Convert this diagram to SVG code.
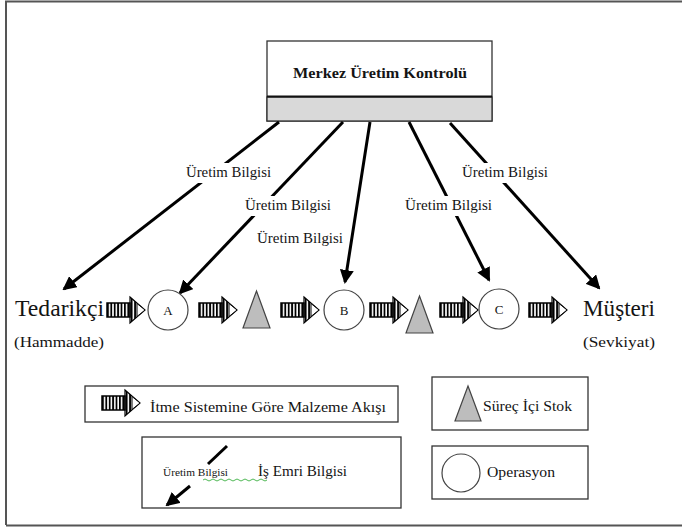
<svg xmlns="http://www.w3.org/2000/svg" width="682" height="528" viewBox="0 0 682 528">
<style>
  text{font-family:"Liberation Serif","Times New Roman",serif;fill:#141414}
  .box{fill:#fff;stroke:#333;stroke-width:1.3}
  .lbl{font-size:14px}
  .lblbg{fill:#fff}
  .conn{stroke:#000;stroke-width:3;fill:none}
  .op{fill:#fff;stroke:#444;stroke-width:1.2}
  .stock{fill:#bdbdbd;stroke:#444;stroke-width:1.2}
  .frame{stroke:#555;stroke-width:2;fill:none}
  .letter{font-size:13px;text-anchor:middle}
</style>
<defs>
  <pattern id="stripes" patternUnits="userSpaceOnUse" width="3.4" height="10">
    <rect width="1.8" height="10" fill="#000"/>
  </pattern>
  <marker id="ah" markerUnits="userSpaceOnUse" markerWidth="14" markerHeight="14" viewBox="0 0 14 14" refX="12" refY="7" orient="auto">
    <path d="M0,0 L14,7 L0,14 Z" fill="#000"/>
  </marker>
  <!-- push-flow arrow: striped shaft with striped head, origin at left-centre -->
  <g id="push">
    <rect x="0" y="-7" width="23" height="14" fill="url(#stripes)" stroke="#000" stroke-width="1.5"/>
    <path d="M23,-13 L38,0 L23,13 Z" fill="url(#stripes)" stroke="#000" stroke-width="1.2"/>
    <path d="M30,-6.5 L38,0 L30,6.5 Z" fill="#fff" stroke="#000" stroke-width="1"/>
  </g>
</defs>

<!-- page frame -->
<path class="frame" d="M6,525 V1.5 H682"/>
<path class="frame" d="M6,525.5 H682"/>

<!-- central control -->
<g id="control">
  <rect x="267" y="41" width="225" height="80" class="box"/>
  <rect x="267" y="97" width="225" height="24" fill="#d9d9d9" stroke="#333" stroke-width="1.3"/>
  <line x1="267" y1="96.5" x2="492" y2="96.5" stroke="#111" stroke-width="2.2"/>
  <text x="380" y="78" font-size="14.5" font-weight="bold" text-anchor="middle" textLength="174" lengthAdjust="spacingAndGlyphs">Merkez Üretim  Kontrolü</text>
</g>

<!-- information flows -->
<g id="connectors">
  <line class="conn" x1="279" y1="122" x2="64" y2="289" marker-end="url(#ah)"/>
  <line class="conn" x1="343" y1="122" x2="180" y2="293" marker-end="url(#ah)"/>
  <line class="conn" x1="370" y1="122" x2="345" y2="282" marker-end="url(#ah)"/>
  <line class="conn" x1="409" y1="122" x2="489" y2="280" marker-end="url(#ah)"/>
  <line class="conn" x1="450" y1="123" x2="599" y2="288" marker-end="url(#ah)"/>
</g>

<!-- flow labels -->
<g id="labels" class="lbl">
  <rect class="lblbg" x="184" y="163" width="89" height="20"/>
  <text x="186" y="177" textLength="85" lengthAdjust="spacingAndGlyphs">Üretim Bilgisi</text>
  <rect class="lblbg" x="243" y="196" width="91" height="20"/>
  <text x="245" y="210" textLength="86" lengthAdjust="spacingAndGlyphs">Üretim Bilgisi</text>
  <rect class="lblbg" x="255" y="229" width="90" height="20"/>
  <text x="257" y="243" textLength="86" lengthAdjust="spacingAndGlyphs">Üretim Bilgisi</text>
  <rect class="lblbg" x="403" y="196" width="91" height="20"/>
  <text x="405" y="210" textLength="87" lengthAdjust="spacingAndGlyphs">Üretim Bilgisi</text>
  <rect class="lblbg" x="460" y="163" width="90" height="20"/>
  <text x="462" y="177" textLength="86" lengthAdjust="spacingAndGlyphs">Üretim Bilgisi</text>
</g>

<!-- supplier -->
<g id="supplier">
  <text x="15" y="316" font-size="23" textLength="89" lengthAdjust="spacingAndGlyphs">Tedarikçi</text>
  <text x="14" y="347" font-size="14" textLength="90" lengthAdjust="spacingAndGlyphs">(Hammadde)</text>
</g>

<g id="flow1"><use href="#push" x="107" y="310"/></g>
<g id="opA"><circle cx="168" cy="310" r="20" class="op"/><text x="168" y="314.5" class="letter">A</text></g>
<g id="flow2"><use href="#push" x="199" y="310"/></g>
<g id="stock1"><path d="M256.5,291 L270,328 L243,328 Z" class="stock"/></g>
<g id="flow3"><use href="#push" x="281" y="310"/></g>
<g id="opB"><circle cx="344" cy="310" r="20" class="op"/><text x="344" y="314.5" class="letter">B</text></g>
<g id="flow4"><use href="#push" x="370" y="310"/></g>
<g id="stock2"><path d="M419.5,296 L433,333 L406,333 Z" class="stock"/></g>
<g id="flow5"><use href="#push" x="440" y="310"/></g>
<g id="opC"><circle cx="499" cy="309" r="20" class="op"/><text x="499" y="313.5" class="letter">C</text></g>
<g id="flow6"><use href="#push" x="529" y="310"/></g>

<!-- customer -->
<g id="customer">
  <text x="583" y="316" font-size="23" textLength="72" lengthAdjust="spacingAndGlyphs">Müşteri</text>
  <text x="583" y="347" font-size="14" textLength="72" lengthAdjust="spacingAndGlyphs">(Sevkiyat)</text>
</g>

<!-- legend -->
<g id="legend-flow">
  <rect x="85" y="386" width="313" height="36" class="box"/>
  <use href="#push" x="102" y="403"/>
  <text x="150" y="412" font-size="14.5" textLength="236" lengthAdjust="spacingAndGlyphs">İtme Sistemine Göre Malzeme Akışı</text>
</g>
<g id="legend-stock">
  <rect x="432" y="377" width="156" height="53" class="box"/>
  <path d="M468,386 L481,421 L455,421 Z" class="stock"/>
  <text x="483" y="411" font-size="14.5" textLength="89" lengthAdjust="spacingAndGlyphs">Süreç İçi Stok</text>
</g>
<g id="legend-info">
  <rect x="142" y="437" width="259" height="71" class="box"/>
  <line x1="227" y1="446" x2="208" y2="464" stroke="#000" stroke-width="3"/>
  <line class="conn" x1="190" y1="486" x2="167" y2="505" marker-end="url(#ah)"/>
  <text x="163" y="476" font-size="11" textLength="65" lengthAdjust="spacingAndGlyphs">Üretim Bilgisi</text>
  <path d="M203,480 q2,-2 4,0 t4,0 t4,0 t4,0 t4,0 t4,0 t4,0 t4,0 t4,0 t4,0 t4,0 t4,0 t4,0 t4,0 t4,0 t4,0" fill="none" stroke="#3cb043" stroke-width="0.9"/>
  <text x="258" y="476" font-size="15" textLength="89" lengthAdjust="spacingAndGlyphs">İş Emri Bilgisi</text>
</g>
<g id="legend-op">
  <rect x="432" y="446" width="156" height="53" class="box"/>
  <circle cx="461" cy="473" r="19" class="op"/>
  <text x="487" y="477" font-size="14.5" textLength="68" lengthAdjust="spacingAndGlyphs">Operasyon</text>
</g>
</svg>
